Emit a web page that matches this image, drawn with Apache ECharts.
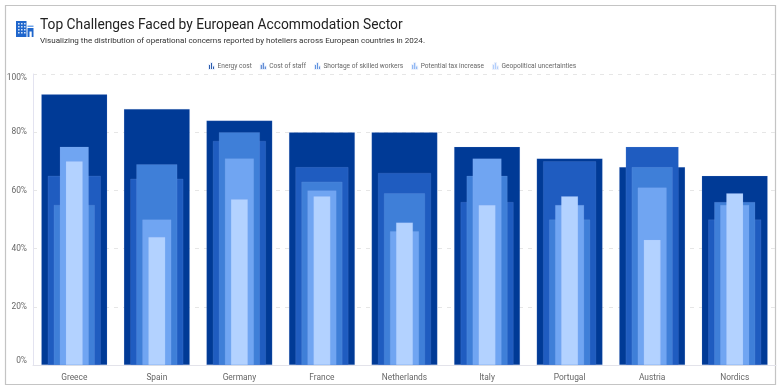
<!DOCTYPE html>
<html><head><meta charset="utf-8">
<script src="https://cdn.jsdelivr.net/npm/echarts@6/dist/echarts.min.js"></script>
<style>html,body{margin:0;padding:0;background:#fff}#c{width:780px;height:390px}</style>
</head><body><div id="c"></div>
<script>
const categories = ['Greece','Spain','Germany','France','Netherlands','Italy','Portugal','Austria','Nordics'];
const energyCost = [93,88,84,80,80,75,71,68,65];
const costOfStaff = [65,64,77,68,66,56,70,75,50];
const skilledWorkers = [55,69,80,63,59,65,50,68,56];
const taxIncrease = [75,50,71,60,46,71,55,61,55];
const geopolitical = [70,44,57,58,49,55,58,43,59];
const seriesNames = ['Energy cost','Cost of staff','Shortage of skilled workers','Potential tax increase','Geopolitical uncertainties'];
const seriesValues = [energyCost,costOfStaff,skilledWorkers,taxIncrease,geopolitical];
const colors = ['#003a96','#1f5cc0','#3f7fd8','#70a5f2','#b3d2ff'];
const barWidths = [66,53,41,29,17];
const font = 'Roboto,"Noto Sans",sans-serif';
const legendIcon = 'path://M0 4H2V12H0ZM4 0H6V12H4ZM8 7H10V12H8Z';

const chart = echarts.init(document.getElementById('c'), null, {renderer:'canvas'});
chart.setOption({
  animation:false,
  backgroundColor:'#fff',
  title:{left:40,top:19,text:'Top Challenges Faced by European Accommodation Sector',
    subtext:'Visualizing the distribution of operational concerns reported by hoteliers across European countries in 2024.',
    itemGap:4,padding:0,
    textStyle:{fontFamily:font,fontSize:13.8,fontWeight:400,color:'#222'},
    subtextStyle:{fontFamily:font,fontSize:8.05,color:'#333'}},
  legend:{top:62,left:208,padding:0,itemWidth:6,itemHeight:6,itemGap:8,icon:legendIcon,
    textStyle:{fontFamily:font,fontSize:6.6,color:'#666',padding:[0,0,0,-2]},
    data:seriesNames},
  grid:{left:33,right:4,top:74,bottom:25},
  xAxis:seriesNames.map((n,i)=>({
    type:'category',data:categories,show:i===0,
    axisLine:{lineStyle:{color:'#e3e3ea'}},
    axisTick:{alignWithLabel:true,length:4,lineStyle:{color:'#d8d8e0'}},
    axisLabel:{fontFamily:font,fontSize:8.4,color:'#666',margin:9}
  })),
  yAxis:{type:'value',min:0,max:100,interval:20,
    axisLine:{show:true,lineStyle:{color:'#e3e3f0'}},
    axisTick:{show:false},
    splitLine:{lineStyle:{type:[4,5],color:'#e6e6e6'}},
    axisLabel:{fontFamily:font,fontSize:8.4,color:'#666',margin:6,formatter:'{value}%',
      verticalAlignMinLabel:'bottom',verticalAlignMaxLabel:'top'}},
  series:seriesNames.map((n,i)=>({
    name:n,type:'bar',xAxisIndex:i,data:seriesValues[i],barWidth:barWidths[i],z:2+i,
    itemStyle:{color:colors[i],borderColor:'rgba(170,195,245,0.25)',borderWidth:0.5}
  })),
  graphic:[
    {type:'rect',silent:true,z:-1,shape:{x:5.5,y:5.5,width:770,height:379},style:{fill:'none',stroke:'#c4c4c4',lineWidth:1.2}},
    {type:'group',silent:true,left:16,top:21,children:[
      {type:'rect',shape:{x:0,y:0,width:10.5,height:16},style:{fill:'#1f66cc'}},
      {type:'rect',shape:{x:11.5,y:4.5,width:6,height:1.5},style:{fill:'#6ea3e8'}},
      {type:'rect',shape:{x:11.5,y:7,width:6,height:9},style:{fill:'#1f66cc'}},
      {type:'rect',shape:{x:13.5,y:10.5,width:2.2,height:5.5},style:{fill:'#fff'}},
      ...[2,5,8].flatMap(x=>[2,5,8,11].map(y=>({type:'rect',shape:{x:x,y:y,width:1.6,height:1.6},style:{fill:'#cfe0f8'}})))
    ]}
  ]
});
</script></body></html>
